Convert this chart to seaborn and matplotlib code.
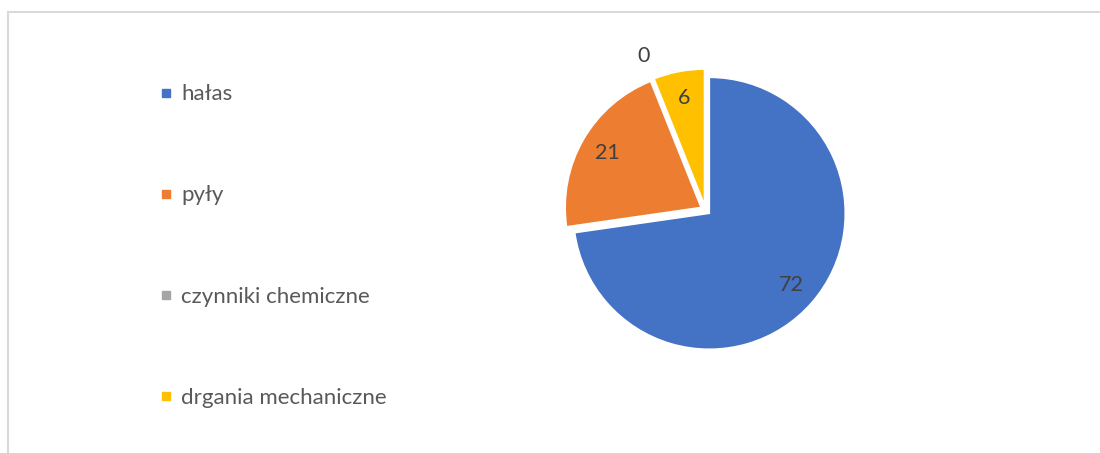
import numpy as np
import pandas as pd
import matplotlib
matplotlib.use("Agg")
import matplotlib.pyplot as plt
import seaborn as sns
from matplotlib.lines import Line2D

# data
categories = ["hałas", "pyły", "czynniki chemiczne", "drgania mechaniczne"]
values = [72, 21, 0, 6]
colors = ["#4472C4", "#ED7D31", "#A5A5A5", "#FFC000"]

sns.set_theme(style="white")
plt.rcParams["font.family"] = ["Lato", "DejaVu Sans"]

fig = plt.figure(figsize=(11, 4.53), dpi=100)

# pie axes, placed so the radius is ~136 px
cx, cy = 705.5 / 1100, 1 - 210 / 453
w, h = 353.6 / 1100, 353.6 / 453
ax = fig.add_axes([cx - w / 2, cy - h / 2, w, h])

total = sum(values)
zero_labels = [str(v) if v == 0 else "" for v in values]
wedges, texts, autotexts = ax.pie(
    values, colors=colors, startangle=90, counterclock=False,
    explode=[0.037] * len(values), labels=zero_labels, labeldistance=1.18,
    autopct=lambda p: f"{round(p * total / 100)}" if p > 0 else "",
    pctdistance=0.8,
    wedgeprops=dict(edgecolor="white", linewidth=1.2),
    textprops=dict(fontsize=15.5, color="#404040"),
)
for t in texts:
    t.set_ha("center")
    t.set_va("center")
ax.set_xlim(-1.3, 1.3)
ax.set_ylim(-1.3, 1.3)

handles = [Line2D([], [], marker="s", linestyle="none", markersize=6,
                  markerfacecolor=c, markeredgecolor=c) for c in colors]
fig.legend(handles, categories, loc="center left",
           bbox_to_anchor=(140 / 1100, 1 - 246 / 453),
           frameon=False, fontsize=16, labelcolor="#595959",
           labelspacing=3.65, handlelength=0.5, handletextpad=0.45)

# light chart-area border (cut off at right and bottom)
border = dict(color="#D9D9D9", linewidth=1.5, transform=fig.transFigure)
fig.add_artist(Line2D([8 / 1100, 1], [1 - 12 / 453, 1 - 12 / 453], **border))
fig.add_artist(Line2D([8 / 1100, 8 / 1100], [0, 1 - 12 / 453], **border))

fig.savefig("out.png", dpi=100)
